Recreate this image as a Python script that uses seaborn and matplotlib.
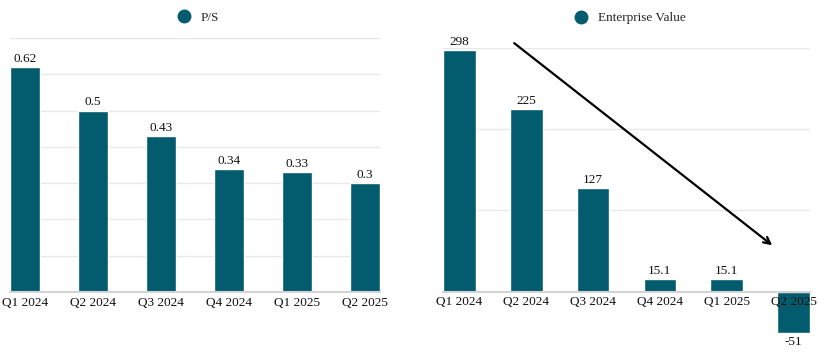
import matplotlib
matplotlib.use('Agg')
import matplotlib.pyplot as plt
from matplotlib.lines import Line2D
import pandas as pd
import seaborn as sns

# Data
quarters = ['Q1 2024', 'Q2 2024', 'Q3 2024', 'Q4 2024', 'Q1 2025', 'Q2 2025']
ps_values = [0.62, 0.5, 0.43, 0.34, 0.33, 0.3]
ev_values = [298, 225, 127, 15.1, 15.1, -51]

BAR = '#035b6e'
GRID = '#e8e8e8'
BASE = '#d4d4d4'

sns.set_theme(style='white')
plt.rcParams['font.family'] = ['Liberation Serif', 'DejaVu Serif']

W, H = 820, 352
fig = plt.figure(figsize=(W / 100, H / 100), dpi=100)


def px_axes(x0, x1, y_top, y_bot):
    return fig.add_axes([x0 / W, (H - y_bot) / H, (x1 - x0) / W, (y_bot - y_top) / H])


def style(ax, ticks, label, width, legend_y):
    ax.set_xlim(-width / 2, len(quarters) - 1 + width / 2)
    for t in ticks:
        ax.axhline(t, color=GRID, lw=1, zorder=0)
    for s in ['top', 'right', 'left']:
        ax.spines[s].set_visible(False)
    ax.spines['bottom'].set_position(('data', 0))
    ax.spines['bottom'].set_color(BASE)
    ax.spines['bottom'].set_linewidth(1.5)
    ax.set_axisbelow(False)
    ax.set_yticks([])
    ax.set_xlabel('')
    ax.set_ylabel('')
    ax.tick_params(axis='x', length=0, pad=3.5, labelsize=9.5, colors='#111111')
    handle = Line2D([], [], marker='o', ls='', color=BAR, markersize=9)
    ax.legend([handle], [label], loc='lower center', bbox_to_anchor=(0.5, legend_y),
              frameon=False, fontsize=9.5, handletextpad=0.3,
              borderaxespad=0, bbox_transform=ax.transAxes)


def value_labels(ax, vals):
    for i, v in enumerate(vals):
        if v >= 0:
            ax.annotate(f'{v:g}', (i, v), xytext=(0, 1.5), textcoords='offset points',
                        ha='center', va='bottom', fontsize=9.5, color='#111111')
        else:
            ax.annotate(f'{v:g}', (i, v), xytext=(0, -2), textcoords='offset points',
                        ha='center', va='top', fontsize=9.5, color='#111111')


# Left: P/S
df_ps = pd.DataFrame({'quarter': quarters, 'ps': ps_values})
ax1 = px_axes(10, 380, 38, 292)
sns.barplot(data=df_ps, x='quarter', y='ps', color=BAR, saturation=1,
            width=0.44, ax=ax1, zorder=1)
ax1.set_ylim(0, 0.7)
style(ax1, [0.1, 0.2, 0.3, 0.4, 0.5, 0.6, 0.7], 'P/S', 0.44, 1.035)
value_labels(ax1, ps_values)

# Right: Enterprise Value
df_ev = pd.DataFrame({'quarter': quarters, 'ev': ev_values})
ax2 = px_axes(443, 810, 48, 333)
sns.barplot(data=df_ev, x='quarter', y='ev', color=BAR, saturation=1,
            width=0.49, ax=ax2, zorder=1)
ax2.set_ylim(-51, 300)
style(ax2, [100, 200, 300], 'Enterprise Value', 0.49, 1.065)
value_labels(ax2, ev_values)

# trend arrow
ax2.annotate('', xy=(4.68, 57), xytext=(0.82, 306),
             arrowprops=dict(arrowstyle='->', color='black', lw=1.6,
                             mutation_scale=12, shrinkA=0, shrinkB=0))

fig.savefig('out.png', dpi=100)
